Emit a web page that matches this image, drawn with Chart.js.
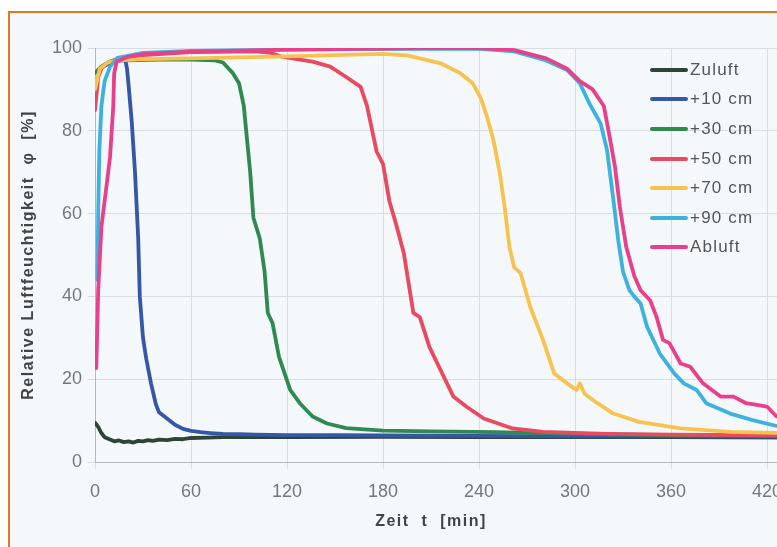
<!DOCTYPE html>
<html>
<head>
<meta charset="utf-8">
<script src="https://cdn.jsdelivr.net/npm/chart.js@4.4.0/dist/chart.umd.min.js"></script>
<style>
    html, body { margin: 0; padding: 0; background: #fff; overflow: hidden; }
    #frame {
        position: absolute; left: 8px; top: 11px; width: 820px; height: 560px;
        border-left: 2px solid #e27820; border-top: 2px solid #e27820;
        background: #f4f8fb;
    }
    #wrap { position: absolute; left: 0; top: 0; width: 800px; height: 547px; }
    #legend {
        position: absolute; left: 650px; top: 55px;
        font-family: "Liberation Sans", Arial, sans-serif; font-size: 17px; color: #555;
        letter-spacing: 1.2px;
    }
    .row { height: 29.6px; display: flex; align-items: center; }
    .swatch { width: 38px; height: 4px; margin-right: 2px; border-radius: 2px; }
</style>
</head>
<body>
<div id="frame"></div>
<div id="wrap"><canvas id="chart" width="800" height="547"></canvas></div>
<div id="legend"></div>
<script>
// Axis texts
const X_TITLE = 'Zeit  t  [min]';
const Y_TITLE = 'Relative Luftfeuchtigkeit  φ  [%]';

// Series names and colours (legend order)
const SERIES_NAMES = ['Zuluft', '+10 cm', '+30 cm', '+50 cm', '+70 cm', '+90 cm', 'Abluft'];
const SERIES_COLORS = ['#2f4437', '#3557a8', '#2e8a50', '#e84a5f', '#f7c34e', '#3db2e0', '#e8408a'];

// Values: time [min] and relative humidity [%]
const zuluftTime  = [0, 2, 4, 6, 9, 12, 15, 18, 21, 24, 27, 30, 33, 36, 40, 45, 50, 55, 60, 70, 80, 90, 120, 180, 240, 300, 360, 440];
const zuluftValue = [9.5, 8.5, 7, 6, 5.5, 5, 5.2, 4.8, 5, 4.7, 5.1, 5, 5.3, 5.1, 5.4, 5.3, 5.6, 5.5, 5.8, 5.9, 6, 6, 6, 6.1, 6, 6, 6, 5.9];

const cm10Time  = [0, 5, 10, 15, 19, 20, 21, 23, 25, 27, 28, 30, 32, 35, 38, 40, 45, 50, 55, 60, 66, 72, 80, 90, 100, 120, 150, 180, 240, 300, 360, 440];
const cm10Value = [94, 95.5, 96.5, 97, 97, 95, 91, 82, 70, 54, 40, 30, 25, 19, 14, 12, 10.5, 9, 8, 7.5, 7.2, 7, 6.8, 6.7, 6.6, 6.5, 6.5, 6.4, 6.3, 6.2, 6.2, 6.1];

const cm30Time  = [0, 4, 8, 12, 20, 40, 60, 75, 80, 86, 90, 93, 95, 97, 99, 103, 106, 108, 111, 115, 122, 128, 136, 145, 157, 180, 210, 250, 300, 360, 440];
const cm30Value = [94, 95.5, 96.5, 97, 97, 97.2, 97.2, 97, 96.5, 94, 91.5, 86, 78, 70, 59, 54, 46, 36, 33.5, 25.4, 17.4, 14.2, 11, 9.3, 8.2, 7.6, 7.4, 7.2, 6.8, 6.5, 6.3];

const cm50Time  = [0, 2, 4, 8, 15, 30, 60, 100, 110, 116, 126, 136, 147, 157, 166, 170, 176, 180, 184, 188, 193, 197, 199, 203, 209, 216, 224, 232, 243, 261, 280, 320, 360, 440];
const cm50Value = [85, 93, 95, 96.5, 97.5, 98.3, 99, 99.2, 98.8, 98, 97.3, 96.7, 95.5, 93, 90.6, 86, 75, 72, 63, 57.7, 50.5, 40.8, 36, 35, 27.8, 22.2, 15.8, 13.4, 10.5, 8.1, 7.3, 6.8, 6.6, 6.4];

const cm70Time  = [0, 3, 8, 15, 30, 60, 120, 180, 195, 203, 216, 228, 236, 241, 245, 249, 253, 256, 259, 262, 266, 272, 280, 287, 295, 301, 303, 306, 314, 324, 340, 366, 397, 440];
const cm70Value = [90, 95, 96.5, 97, 97.3, 97.5, 98, 98.6, 98.2, 97.5, 96.3, 94, 91.5, 88, 83.4, 77.8, 69.7, 61.7, 52, 47, 45.6, 37.5, 29.5, 21.4, 19, 17.4, 19, 16.5, 14.2, 11.7, 9.7, 8.1, 7.3, 6.9];

const cm90Time  = [1.5, 2, 2.7, 4, 6, 9.4, 14, 30, 60, 120, 200, 241, 262, 282, 295, 303, 309, 316, 320, 324, 327, 330, 334, 337, 341, 345, 353, 362, 368, 376, 382, 397, 411, 426, 440];
const cm90Value = [44, 60, 75, 86, 92, 95.5, 97.6, 98.8, 99.3, 99.6, 99.8, 99.8, 99.2, 97, 94.7, 91.5, 86.6, 81.8, 75.4, 63.3, 53.6, 46, 41.5, 40, 38.3, 32.7, 26.2, 21.4, 19, 17.4, 14.2, 11.7, 10.1, 8.7, 8];

const abluftTime  = [0.8, 2, 4, 7.3, 9.4, 11.4, 12, 13.5, 20, 30, 60, 120, 200, 241, 262, 282, 295, 303, 311, 318, 322, 325, 328, 332, 337, 341, 347, 351, 355, 359, 366, 372, 380, 391, 399, 407, 420, 426, 440];
const abluftValue = [22.7, 41.5, 56.8, 67, 73.7, 85.8, 93.9, 96.7, 97.8, 98.5, 99.1, 99.6, 100, 100, 99.5, 97.5, 95, 92, 90, 86, 77.8, 71.3, 61.7, 52, 45, 41.5, 39, 35, 29.5, 28.7, 23.8, 23, 19, 15.8, 15.8, 14.2, 13.4, 11, 10];

const SERIES_TIMES = [zuluftTime, cm10Time, cm30Time, cm50Time, cm70Time, cm90Time, abluftTime];
const SERIES_VALUES = [zuluftValue, cm10Value, cm30Value, cm50Value, cm70Value, cm90Value, abluftValue];

// Axis ranges and ticks
const X_MIN = 0, X_MAX = 440, X_STEP = 60;
const Y_MIN = 0, Y_MAX = 100, Y_STEP = 20;

Chart.defaults.font.family = '"Liberation Sans", Arial, sans-serif';

const datasets = SERIES_NAMES.map((name, i) => ({
    label: name,
    data: SERIES_TIMES[i].map((t, k) => ({ x: t, y: SERIES_VALUES[i][k] })),
    borderColor: SERIES_COLORS[i],
    backgroundColor: SERIES_COLORS[i],
    order: SERIES_NAMES.length - i   // later series drawn on top
}));

// Axis titles drawn at fixed spots of the frame
const axisTitles = {
    id: 'axisTitles',
    afterDraw(chart) {
        const { ctx, scales: { x, y } } = chart;
        ctx.save();
        ctx.fillStyle = '#444';
        ctx.font = 'bold 16px "Liberation Sans", Arial, sans-serif';
        ctx.letterSpacing = '1.5px';
        ctx.textAlign = 'center';
        ctx.textBaseline = 'middle';
        ctx.fillText(X_TITLE, x.getPixelForValue(210), 522);
        ctx.translate(29, (y.top + y.bottom) / 2);
        ctx.rotate(-Math.PI / 2);
        ctx.fillText(Y_TITLE, 0, 0);
        ctx.restore();
    }
};

new Chart(document.getElementById('chart').getContext('2d'), {
    type: 'line',
    data: { datasets },
    options: {
        responsive: false,
        animation: false,
        layout: { padding: { left: 0, top: 48, right: 1, bottom: 0 } },
        plugins: { legend: { display: false }, tooltip: { enabled: false } },
        elements: {
            point: { radius: 0 },
            line: { borderWidth: 3.8, tension: 0, borderCapStyle: 'round', borderJoinStyle: 'round' }
        },
        scales: {
            x: {
                type: 'linear', min: X_MIN, max: X_MAX,
                afterFit: s => { s.height = 85; },
                ticks: { stepSize: X_STEP, includeBounds: false, color: '#777', font: { size: 18 }, padding: 12 },
                grid: { color: '#d9dde2', tickLength: 7 },
                border: { color: '#b5b8bb' }
            },
            y: {
                min: Y_MIN, max: Y_MAX,
                afterFit: s => { s.width = 95; },
                ticks: { stepSize: Y_STEP, color: '#777', font: { size: 18 }, padding: 6 },
                grid: { color: '#d9dde2', tickLength: 7 },
                border: { color: '#b5b8bb' }
            }
        }
    },
    plugins: [axisTitles]
});

// HTML legend inside the plot
const legend = document.getElementById('legend');
SERIES_NAMES.forEach((name, i) => {
    const row = document.createElement('div');
    row.className = 'row';
    const sw = document.createElement('span');
    sw.className = 'swatch';
    sw.style.background = SERIES_COLORS[i];
    const label = document.createElement('span');
    label.textContent = name;
    row.appendChild(sw);
    row.appendChild(label);
    legend.appendChild(row);
});
</script>
</body>
</html>
